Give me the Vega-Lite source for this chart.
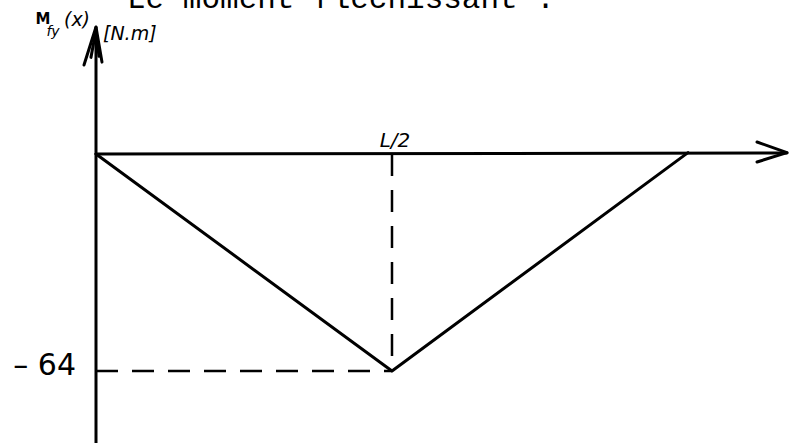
{
  "$schema": "https://vega.github.io/schema/vega-lite/v6.json",
  "width": 791,
  "height": 443,
  "padding": 0,
  "autosize": {"type": "none"},
  "background": "white",
  "config": {"view": {"stroke": null}},
  "datasets": {
    "solid": [
      {"s": "xaxis", "k": 0, "x": 0, "y": 0},
      {"s": "xaxis", "k": 1, "x": 1.1672, "y": 0.3},
      {"s": "yaxis", "k": 0, "x": 0, "y": -86},
      {"s": "yaxis", "k": 1, "x": 0, "y": 37.4},
      {"s": "xarrow", "k": 0, "x": 1.1166, "y": 3.54},
      {"s": "xarrow", "k": 1, "x": 1.1672, "y": 0.4},
      {"s": "xarrow", "k": 2, "x": 1.1166, "y": -2.36},
      {"s": "yarrow", "k": 0, "x": -0.0203, "y": 26.25},
      {"s": "yarrow", "k": 1, "x": 0, "y": 37.46},
      {"s": "yarrow", "k": 2, "x": 0.0101, "y": 27.1},
      {"s": "yarrow2", "k": 0, "x": -0.0085, "y": 28.5},
      {"s": "yarrow2", "k": 1, "x": 0, "y": 36.5},
      {"s": "yarrow2", "k": 2, "x": 0.005, "y": 28.8},
      {"s": "moment", "k": 0, "x": 0, "y": 0},
      {"s": "moment", "k": 1, "x": 0.5, "y": -64},
      {"s": "moment", "k": 2, "x": 1, "y": 0.4}
    ],
    "dashed": [
      {"s": "v", "k": 0, "x": 0.5, "y": 0},
      {"s": "v", "k": 1, "x": 0.5, "y": -64},
      {"s": "h", "k": 0, "x": 0, "y": -64},
      {"s": "h", "k": 1, "x": 0.5, "y": -64}
    ],
    "title": [{"t": "Le moment fléchissant :", "x": 0.0524, "y": 43.07}],
    "val": [{"t": "– 64", "x": -0.0338, "y": -65.2}],
    "half": [{"t": "L/2", "x": 0.505, "y": 2.06}],
    "ylab_m": [{"t": "M", "x": -0.0895, "y": 38.35}],
    "ylab_fy": [{"t": "fy", "x": -0.0726, "y": 34.8}],
    "ylab_x": [{"t": "(x)", "x": -0.0321, "y": 37.8}],
    "ylab_u": [{"t": "[N.m]", "x": 0.0118, "y": 33.6}]
  },
  "encoding": {
    "x": {"field": "x", "type": "quantitative", "axis": null,
          "scale": {"domain": [-0.16216, 1.17399], "nice": false, "zero": false}},
    "y": {"field": "y", "type": "quantitative", "axis": null,
          "scale": {"domain": [-85.24, 45.42], "nice": false, "zero": false}}
  },
  "layer": [
    {
      "data": {"name": "solid"},
      "mark": {"type": "line", "color": "black", "strokeWidth": 3, "strokeCap": "round", "strokeJoin": "round"},
      "encoding": {"detail": {"field": "s"}, "order": {"field": "k"}}
    },
    {
      "data": {"name": "dashed"},
      "mark": {"type": "line", "color": "black", "strokeWidth": 2.5, "strokeDash": [22, 14]},
      "encoding": {"detail": {"field": "s"}, "order": {"field": "k"}}
    },
    {
      "data": {"name": "title"},
      "mark": {"type": "text", "font": "Liberation Mono", "fontSize": 31, "align": "left", "baseline": "alphabetic", "color": "black"},
      "encoding": {"text": {"field": "t"}}
    },
    {
      "data": {"name": "val"},
      "mark": {"type": "text", "font": "DejaVu Sans", "fontSize": 30, "align": "right", "baseline": "alphabetic", "color": "black"},
      "encoding": {"text": {"field": "t"}}
    },
    {
      "data": {"name": "half"},
      "mark": {"type": "text", "font": "DejaVu Sans", "fontSize": 20, "fontStyle": "italic", "align": "center", "baseline": "alphabetic", "color": "black"},
      "encoding": {"text": {"field": "t"}}
    },
    {
      "data": {"name": "ylab_m"},
      "mark": {"type": "text", "font": "DejaVu Sans", "fontSize": 15, "fontWeight": "bold", "align": "center", "baseline": "alphabetic", "color": "black"},
      "encoding": {"text": {"field": "t"}}
    },
    {
      "data": {"name": "ylab_fy"},
      "mark": {"type": "text", "font": "DejaVu Sans", "fontSize": 14, "fontStyle": "italic", "align": "center", "baseline": "alphabetic", "color": "black"},
      "encoding": {"text": {"field": "t"}}
    },
    {
      "data": {"name": "ylab_x"},
      "mark": {"type": "text", "font": "DejaVu Sans", "fontSize": 19, "fontStyle": "italic", "align": "center", "baseline": "alphabetic", "color": "black"},
      "encoding": {"text": {"field": "t"}}
    },
    {
      "data": {"name": "ylab_u"},
      "mark": {"type": "text", "font": "DejaVu Sans", "fontSize": 19, "fontStyle": "italic", "align": "left", "baseline": "alphabetic", "color": "black"},
      "encoding": {"text": {"field": "t"}}
    }
  ]
}
